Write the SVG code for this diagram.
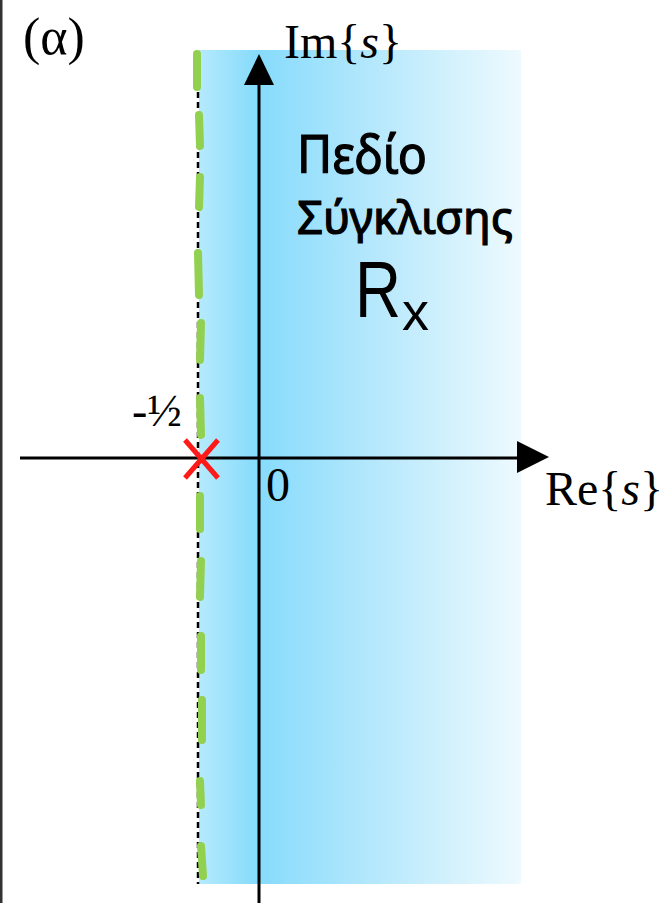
<svg xmlns="http://www.w3.org/2000/svg" width="666" height="903" viewBox="0 0 666 903">
<style>
.math{font-family:"Liberation Serif","DejaVu Serif",serif;fill:#000}
.hand{font-family:"Noto Sans","DejaVu Sans",sans-serif;fill:#000;stroke:#000;stroke-width:1.2;font-weight:400}
.axis{stroke:#000;stroke-width:3;fill:none}
.roc{stroke:#92d050;stroke-width:8;stroke-linecap:round;fill:none}
</style>
<defs>
<linearGradient id="g" x1="199" y1="0" x2="521" y2="0" gradientUnits="userSpaceOnUse">
<stop offset="0" stop-color="#b5eafc"/>
<stop offset="0.18" stop-color="#86dbfc"/>
<stop offset="0.55" stop-color="#b6e8fc"/>
<stop offset="1" stop-color="#eefafe"/>
</linearGradient>
</defs>
<rect x="0" y="0" width="666" height="903" fill="#fff"/>
<rect x="0" y="0" width="2.5" height="903" fill="#333"/>
<g id="region">
<rect x="199" y="50" width="322" height="834" fill="url(#g)"/>
</g>
<g id="boundary">
<line x1="198" y1="52" x2="198" y2="884" stroke="#000" stroke-width="2.5" stroke-dasharray="6 4"/>
<path class="roc" d="M197 54 L197 87 M199 115 L200 146 M200 177 L199 207 M198 253 L199 295 M201 323 L200 360 M200 398 L201 435 M200 496 L200 529 M201 561 L200 597 M201 636 L201 670 M202 700 L202 740 M200 781 L201 805 M201 846 L203 876"/>
</g>
<g id="connectors">
<line class="axis" x1="20" y1="458" x2="522" y2="458"/>
<polygon points="517,441 549,457 517,473" fill="#000"/>
<line class="axis" x1="259" y1="84" x2="259" y2="903"/>
<polygon points="244,85 259,54 274,85" fill="#000"/>
</g>
<g id="label-alpha"><text class="math" x="23" y="54" font-size="52">(α)</text></g>
<g id="label-im"><text class="math" x="284" y="58" font-size="48">Im{<tspan font-style="italic">s</tspan>}</text></g>
<g id="label-re"><text class="math" x="545" y="505" font-size="48">Re{<tspan font-style="italic">s</tspan>}</text></g>
<g id="label-zero"><text class="math" x="266" y="501" font-size="48">0</text></g>
<g id="label-half"><text class="math" x="132" y="426" font-size="46">-½</text></g>
<g id="pole">
<path d="M185 440 L218 478 M218 440 L185 478" stroke="#ff1a1a" stroke-width="5" fill="none"/>
</g>
<g id="label-roc">
<text class="hand" x="297" y="173" font-size="52" textLength="130" lengthAdjust="spacingAndGlyphs">Πεδίο</text>
<text class="hand" x="297" y="234" font-size="46" textLength="216" lengthAdjust="spacingAndGlyphs">Σύγκλισης</text>
</g>
<g id="label-rx">
<text font-family="Liberation Sans, Arial, sans-serif" fill="#000"><tspan x="355" y="317" font-size="80" textLength="46" lengthAdjust="spacingAndGlyphs">R</tspan><tspan x="402" y="330" font-size="54">x</tspan></text>
</g>
</svg>
